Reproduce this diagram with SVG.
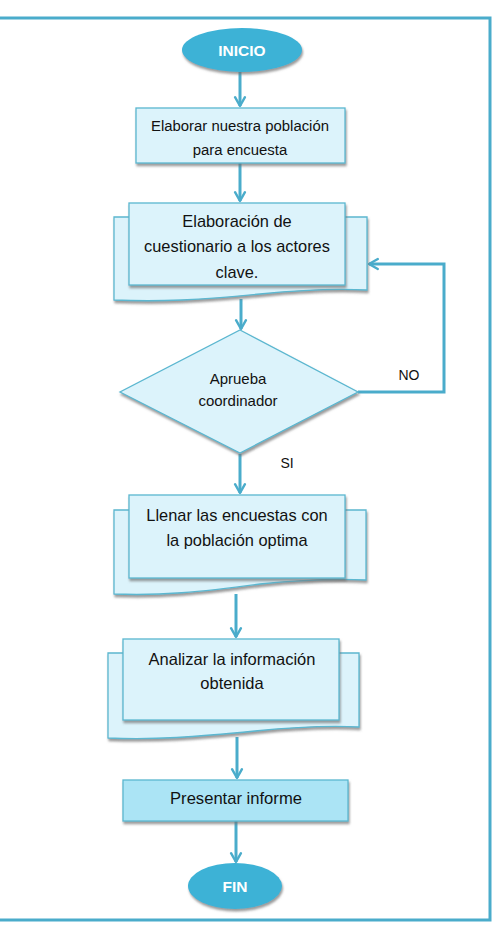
<svg xmlns="http://www.w3.org/2000/svg" width="495" height="927" viewBox="0 0 495 927">
<defs>
<marker id="arr" viewBox="0 0 12 12" refX="10" refY="6" markerWidth="4.4" markerHeight="4.4" orient="auto" markerUnits="strokeWidth">
<path d="M2,1.5 L10,6 L2,10.5" fill="none" stroke="#4aaccb" stroke-width="2.2" stroke-linecap="round" stroke-linejoin="round"/>
</marker>
<filter id="sh" x="-10%" y="-10%" width="125%" height="130%">
<feDropShadow dx="1" dy="2.5" stdDeviation="0.8" flood-color="#707070" flood-opacity="0.7"/>
</filter>
</defs>
<style>
.box{fill:#dcf3fb;stroke:#5bb7d0;stroke-width:1.3;filter:url(#sh)}
.term{fill:#3cb2d6;filter:url(#sh)}
.tt{font-family:"Liberation Sans",Arial,sans-serif;font-weight:bold;fill:#ffffff;font-size:15.5px;text-anchor:middle}
.t{font-family:"Liberation Sans",Arial,sans-serif;fill:#111;text-anchor:middle}
.c{fill:none;stroke:#4aaccb;stroke-width:3}
</style>
<rect width="495" height="927" fill="#ffffff"/>
<path d="M0,18 H490 V920 H0" fill="none" stroke="#4aaccb" stroke-width="3"/>

<g id="connectors">
<path class="c" d="M240,72 V106" marker-end="url(#arr)"/>
<path class="c" d="M240,163 V201" marker-end="url(#arr)"/>
<path class="c" d="M241,299 V329" marker-end="url(#arr)"/>
<path class="c" d="M358,392 H444 V264 H369" marker-end="url(#arr)"/>
<path class="c" d="M240,454 V493" marker-end="url(#arr)"/>
<path class="c" d="M236,594 V637" marker-end="url(#arr)"/>
<path class="c" d="M237,737 V778" marker-end="url(#arr)"/>
<path class="c" d="M236,821 V862" marker-end="url(#arr)"/>
</g>

<g id="inicio">
<ellipse class="term" cx="242" cy="50" rx="60" ry="22"/>
<text class="tt" x="242" y="55.5">INICIO</text>
</g>

<g id="elaborar">
<rect class="box" x="136" y="108" width="209" height="55"/>
<text class="t" font-size="14.9" x="240" y="130.5">Elaborar nuestra población</text>
<text class="t" font-size="14.9" x="240" y="154.5">para encuesta</text>
</g>

<g id="cuestionario">
<path class="box" d="M114,217 H367 V290 C330,288 300,290 260,294 C200,300 160,302 114,300 Z"/>
<rect class="box" x="129" y="203" width="216" height="82"/>
<text class="t" font-size="16.4" x="237" y="227">Elaboración de</text>
<text class="t" font-size="16.4" x="237" y="252">cuestionario a los actores</text>
<text class="t" font-size="16.4" x="237" y="278">clave.</text>
</g>

<g id="decision">
<path class="box" d="M240,330 L358,392 L240,453 L120,392 Z"/>
<text class="t" font-size="15" x="238" y="383.5">Aprueba</text>
<text class="t" font-size="15" x="238" y="406">coordinador</text>
</g>
<text class="t" font-size="14" x="409" y="380">NO</text>
<text class="t" font-size="14" x="287" y="468">SI</text>

<g id="llenar">
<path class="box" d="M114,510 H366 V580 C330,578 300,580 260,584 C200,592 160,596 114,594 Z"/>
<rect class="box" x="129" y="495" width="216" height="83"/>
<text class="t" font-size="16.4" x="237" y="521">Llenar las encuestas con</text>
<text class="t" font-size="16.4" x="237" y="546">la población optima</text>
</g>

<g id="analizar">
<path class="box" d="M108,653 H359 V727 C325,725 295,727 255,731 C195,737 155,740 108,738 Z"/>
<rect class="box" x="123" y="639" width="216" height="81"/>
<text class="t" font-size="16.5" x="232" y="665">Analizar la información</text>
<text class="t" font-size="16.5" x="232" y="689">obtenida</text>
</g>

<g id="presentar">
<rect class="box" x="123" y="780" width="225" height="41" style="fill:#abe4f5"/>
<text class="t" font-size="16.6" x="236" y="804">Presentar informe</text>
</g>

<g id="fin">
<ellipse class="term" cx="235" cy="886" rx="47" ry="23"/>
<text class="tt" x="235" y="891.5">FIN</text>
</g>
</svg>
